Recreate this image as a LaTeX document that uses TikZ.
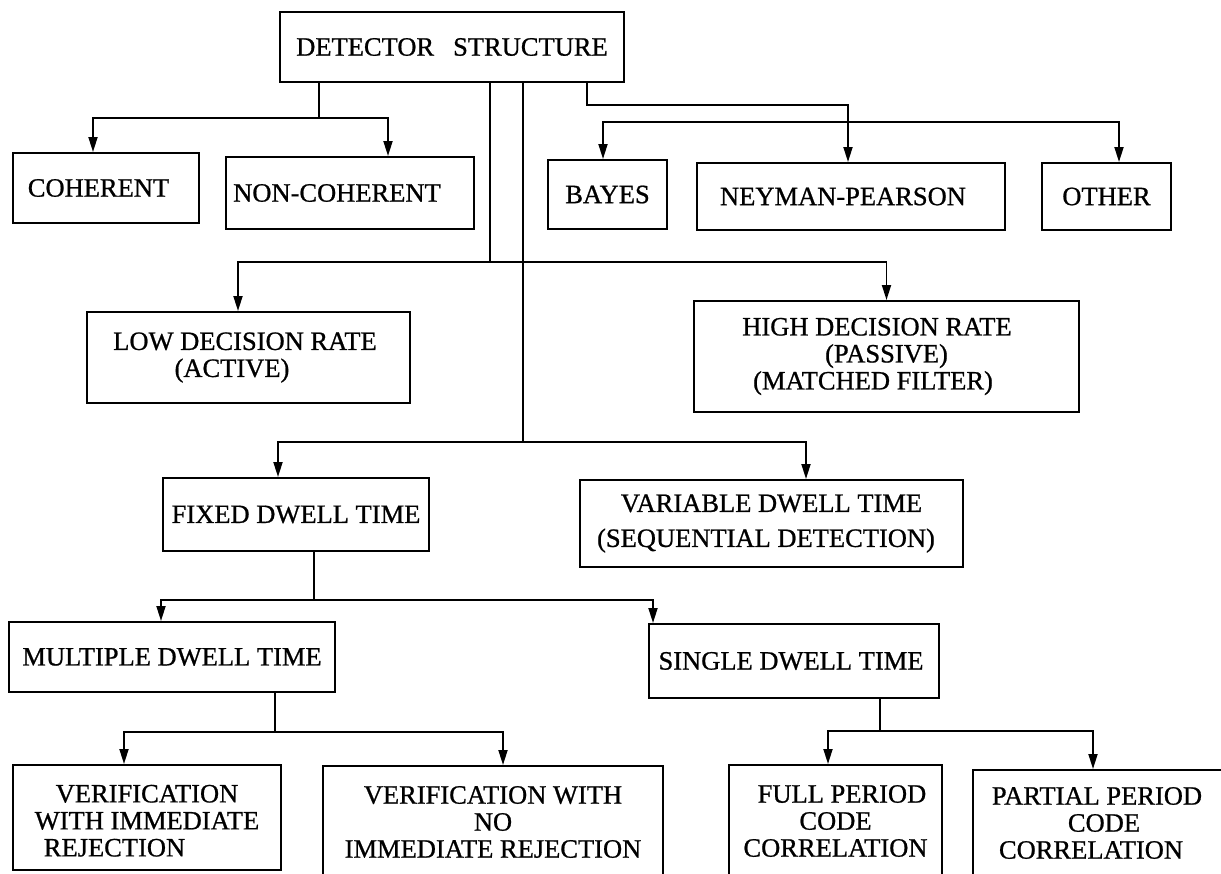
\documentclass[tikz,border=0pt]{standalone}
\usepackage{fontspec}
\setmainfont{Liberation Serif}
\newfontfamily\scanfont{Liberation Serif}[FakeBold=0.8]
\usetikzlibrary{arrows.meta}
\begin{document}
\begin{tikzpicture}[x=1pt,y=-1pt,
  box/.style={draw,line width=2pt,inner sep=0pt,align=center,font=\scanfont\fontsize{26.5pt}{27pt}\selectfont},
  conn/.style={line width=1.8pt},
  arr/.style={conn,-{Triangle[length=15pt,width=9pt]}}]
\path[use as bounding box] (0,0) rectangle (1221,873);
\clip (0,0) rectangle (1221,873);
\fill[white] (0,0) rectangle (1221,873);

\node[box,minimum width=344pt,minimum height=70pt] (top) at (452,47) {DETECTOR\hspace*{19pt}STRUCTURE};
\node[box,minimum width=186pt,minimum height=70pt] (coh) at (106,188) {COHERENT\hspace*{15pt}};
\node[box,minimum width=248pt,minimum height=72pt] (noncoh) at (350,193) {NON-COHERENT\hspace*{26pt}};
\node[box,minimum width=119pt,minimum height=69pt] (bayes) at (607.5,194.5) {BAYES};
\node[box,minimum width=308pt,minimum height=67pt] (neyman) at (851,196.5) {NEYMAN-PEARSON\hspace*{16pt}};
\node[box,minimum width=129pt,minimum height=67pt] (other) at (1106.5,196.5) {OTHER};
\node[box,minimum width=323pt,minimum height=91pt] (low) at (248.5,357.5) {LOW DECISION RATE\hspace*{7pt}\\(ACTIVE)\hspace*{33pt}};
\node[box,minimum width=385pt,minimum height=111pt] (high) at (886.5,356.5) {HIGH DECISION RATE\hspace*{19pt}\\(PASSIVE)\hspace*{37pt}\\(MATCHED FILTER)\hspace*{27pt}};
\node[box,minimum width=266pt,minimum height=73pt] (fixed) at (296,514.5) {FIXED DWELL TIME};
\node[box,minimum width=383pt,minimum height=87pt] (variable) at (771.5,523.5) {VARIABLE DWELL TIME\\[8pt](SEQUENTIAL DETECTION)\hspace*{11pt}};
\node[box,minimum width=326pt,minimum height=70pt] (multiple) at (172,657) {MULTIPLE DWELL TIME};
\node[box,minimum width=290pt,minimum height=74pt] (single) at (794,661) {SINGLE DWELL TIME\hspace*{6pt}};
\node[box,minimum width=268pt,minimum height=105pt] (verif) at (147,817.5) {\rule{0pt}{24pt}VERIFICATION\\WITH IMMEDIATE\hspace*{22pt}\\REJECTION\hspace*{65pt}};
\node[box,minimum width=340pt,minimum height=112pt] (noimm) at (493,822) {VERIFICATION WITH\\NO\\IMMEDIATE REJECTION};
\node[box,minimum width=213pt,minimum height=112pt] (full) at (835.5,821) {\hspace*{13pt}FULL PERIOD\\CODE\hspace*{7pt}\\CORRELATION};
\node[box,minimum width=262pt,minimum height=106pt] (partial) at (1104,823) {PARTIAL PERIOD\hspace*{14pt}\\CODE\\CORRELATION\hspace*{26pt}};

\coordinate (jA) at (319,118);
\coordinate (jB) at (490,262);
\coordinate (jC) at (523,442);
\coordinate (jD0) at (587,105);
\coordinate (jD) at (848,105);
\coordinate (jE) at (848,122);
\coordinate (jF) at (314,600);
\coordinate (jM) at (275,732);
\coordinate (jS) at (880,731);

\draw[conn] (top.south -| jA) -- (jA);
\draw[arr] (jA) -| ([xshift=-13pt]coh.north);
\draw[arr] (jA) -| ([xshift=38pt]noncoh.north);
\draw[conn] (top.south -| jB) -- (jB);
\draw[arr] (jB) -| ([xshift=-10.5pt]low.north);
\draw[arr] (jB) -| (high.north);
\draw[conn] (top.south -| jC) -- (jC);
\draw[arr] (jC) -| ([xshift=-18pt]fixed.north);
\draw[arr] (jC) -| ([xshift=34.5pt]variable.north);
\draw[arr] (top.south -| jD0) |- (jD) -- ([xshift=-3pt]neyman.north);
\draw[arr] (jE) -| ([xshift=-4.5pt]bayes.north);
\draw[arr] (jE) -| ([xshift=12.5pt]other.north);
\draw[conn] (fixed.south -| jF) -- (jF);
\draw[arr] (jF) -| ([xshift=-11pt]multiple.north);
\draw[arr] (jF) -| ([xshift=-141pt]single.north);
\draw[conn] (multiple.south -| jM) -- (jM);
\draw[arr] (jM) -| ([xshift=-23pt]verif.north);
\draw[arr] (jM) -| ([xshift=10pt]noimm.north);
\draw[conn] (single.south -| jS) -- (jS);
\draw[arr] (jS) -| ([xshift=-7.5pt]full.north);
\draw[arr] (jS) -| ([xshift=-11pt]partial.north);
\end{tikzpicture}
\end{document}
